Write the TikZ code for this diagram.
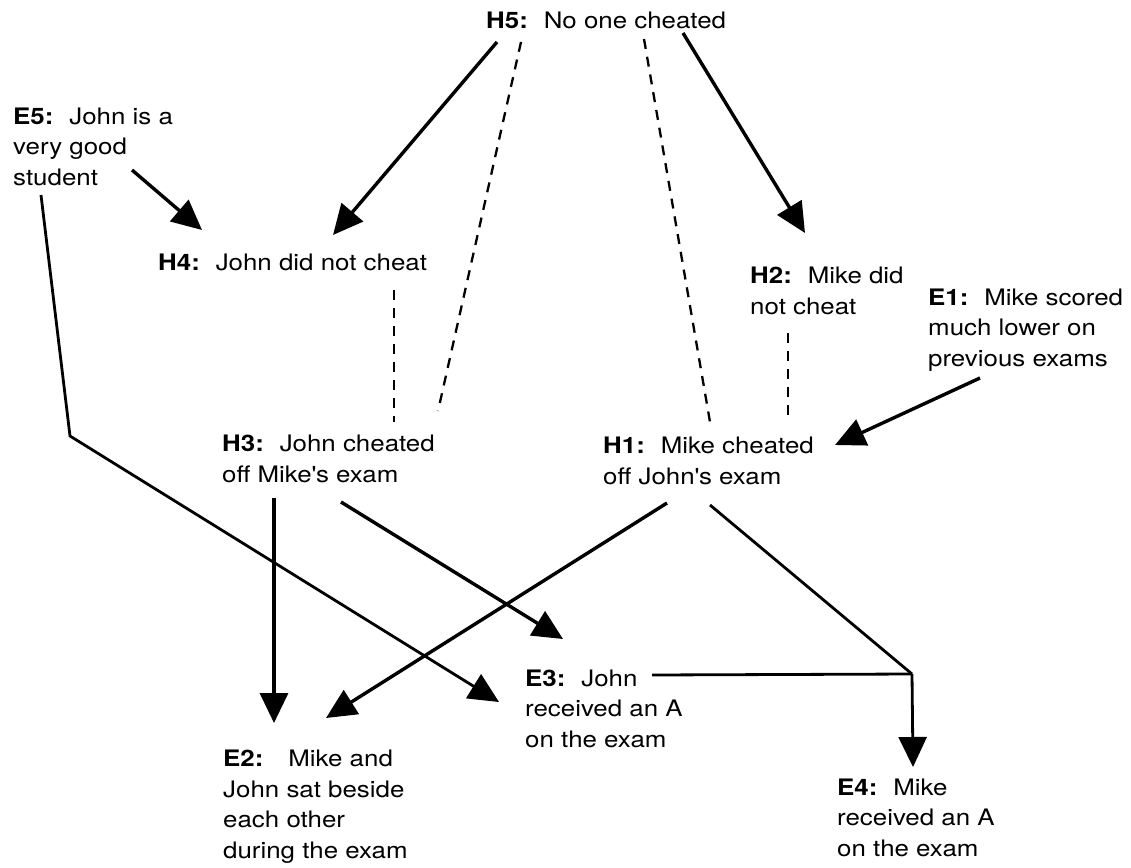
\documentclass[tikz,border=0pt]{standalone}
\usepackage{fontspec}
\setmainfont[FakeStretch=1.14]{TeX Gyre Heros}
\usetikzlibrary{arrows.meta}

\newcommand{\claim}[3][0.7em]{\textbf{#2:}\hspace{#1}#3}

\begin{document}
\begin{tikzpicture}[x=1pt,y=-1pt,>/.tip={Triangle[length=30pt,width=28pt]},
    lbl/.style={anchor=base west,inner sep=0pt,align=left,
      font=\fontsize{22.7}{30.5}\selectfont},
    arr/.style={->,line width=3.4pt},
    link/.style={line width=2.8pt},
    dashlink/.style={line width=2.3pt,dash pattern=on 10pt off 8pt}]
    \useasboundingbox (0,0) rectangle (1131,867);
    % The hypotheses (base = last line)
    \node[lbl] (h5) at (486,29) {\claim{H5}{No one cheated}};
    \node[lbl] (h4) at (158,270) {\claim{H4}{John did not cheat}};
    \node[lbl] (h2) at (750,314) {\claim{H2}{Mike did}\\not cheat};
    \node[lbl] (h3) at (222,482) {\claim{H3}{John cheated}\\off Mike\textquotesingle s exam};
    \node[lbl] (h1) at (603,484) {\claim{H1}{Mike cheated}\\off John\textquotesingle s exam};
    % The evidence
    \node[lbl] (e5) at (13,185) {\claim{E5}{John is a}\\very good\\student};
    \node[lbl] (e1) at (928,366) {\claim{E1}{Mike scored}\\much lower on\\previous exams};
    \node[lbl] (e3) at (525,747) {\claim{E3}{John}\\received an A\\on the exam};
    \node[lbl] (e2) at (223,858) {\claim[1.1em]{E2}{Mike and}\\John sat beside\\each other\\during the exam};
    \node[lbl] (e4) at (837,856) {\claim{E4}{Mike}\\received an A\\on the exam};
    % The bend points
    \coordinate (bend) at (70,436);
    \coordinate (jn) at (912,674);

    % Support from above
    \draw[arr] ([shift={(11,13)}]h5.base west) -- ([shift={(175,-35)}]h4.base west);
    \draw[arr] ([shift={(197,4)}]h5.base west) -- ([shift={(55,-81)}]h2.base west);
    \draw[arr] ([shift={(119,-15)}]e5.base west) -- ([shift={(44,-40)}]h4.base west);
    \draw[arr] ([shift={(52,12)}]e1.base west) -- ([shift={(232,-39)}]h1.base west);
    % Conflicts
    \draw[dashlink] ([shift={(35,13)}]h5.base west) -- ([shift={(216,-71)}]h3.base west);
    \draw[dashlink] ([shift={(158,10)}]h5.base west) -- ([shift={(107,-62)}]h1.base west);
    \draw[dashlink] ([shift={(236,20)}]h4.base west) -- ([shift={(172,-60)}]h3.base west);
    \draw[dashlink] ([shift={(38,19)}]h2.base west) -- ([shift={(185,-64)}]h1.base west);
    % Explanations of the evidence
    \draw[arr] ([shift={(52,16)}]h3.base west) -- ([shift={(51,-135)}]e2.base west);
    \draw[arr] ([shift={(119,20)}]h3.base west) -- ([shift={(38,-108)}]e3.base west);
    \draw[arr] ([shift={(64,19)}]h1.base west) -- ([shift={(103,-140)}]e2.base west);
    \draw[link,->] ([shift={(28,10)}]e5.base west) -- (bend) -- ([shift={(-26,-45)}]e3.base west);
    \draw[link] ([shift={(107,21)}]h1.base west) -- (jn);
    \draw[link] ([shift={(127,-72)}]e3.base west) -- (jn);
    \draw[link,->] (jn) -- ([shift={(76,-89)}]e4.base west);
\end{tikzpicture}
\end{document}
